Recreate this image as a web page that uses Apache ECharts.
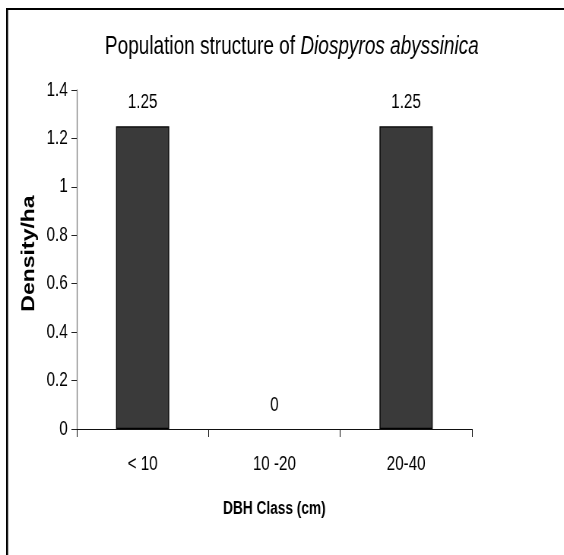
<!DOCTYPE html>
<html><head><meta charset="utf-8">
<script src="https://cdn.jsdelivr.net/npm/echarts@6/dist/echarts.min.js"></script>
<style>
html,body{margin:0;padding:0;background:#fff;overflow:hidden;width:564px;height:555px}
#wrap{width:564px;height:555px;overflow:hidden;position:relative}
#c{width:742px;height:555px;transform:scaleX(0.76);transform-origin:0 0;position:absolute;left:0;top:0}
</style>
</head><body><div id="wrap"><div id="c"></div></div>
<script>
const categories = ['< 10', '10 -20', '20-40'];
const densityValues = [1.25, 0, 1.25];
const yTicks = [0, 0.2, 0.4, 0.6, 0.8, 1, 1.2, 1.4];

const FONT = '"Liberation Sans", Arial, sans-serif';
const chart = echarts.init(document.getElementById('c'), null, {renderer: 'canvas'});
chart.setOption({
  animation: false,
  backgroundColor: '#fff',
  graphic: [
    {type: 'line', silent: true, z: 100, shape: {x1: 8, y1: 9, x2: 760, y2: 9}, style: {stroke: '#000', lineWidth: 2}},
    {type: 'line', silent: true, z: 100, shape: {x1: 9.3, y1: 8, x2: 9.3, y2: 560}, style: {stroke: '#000', lineWidth: 2.6}}
  ],
  title: {
    text: '{n|Population structure of }{i|Diospyros abyssinica}',
    left: 379, textAlign: 'center', top: 30,
    textStyle: {
      fontWeight: 'normal',
      rich: {
        n: {fontFamily: FONT, fontSize: 25, fontWeight: 'normal', color: '#000'},
        i: {fontFamily: FONT, fontSize: 25, fontWeight: 'normal', fontStyle: 'italic', color: '#000'}
      }
    }
  },
  grid: {left: 101, right: 121, top: 90, bottom: 126, containLabel: false},
  xAxis: {
    type: 'category', data: categories,
    axisLine: {lineStyle: {color: '#111', width: 1}},
    axisTick: {show: true, length: 8, lineStyle: {color: '#111'}},
    axisLabel: {fontFamily: FONT, fontSize: 20, color: '#000', margin: 25},
    name: 'DBH Class (cm)', nameLocation: 'middle', nameGap: 71,
    nameTextStyle: {fontFamily: FONT, fontSize: 18, fontWeight: 'bold', color: '#000'}
  },
  yAxis: {
    type: 'value', min: yTicks[0], max: yTicks[yTicks.length - 1], interval: 0.2,
    splitLine: {show: false},
    axisLine: {show: true, lineStyle: {color: '#808080', width: 1.3}},
    axisTick: {show: true, length: 7, lineStyle: {color: '#222'}},
    axisLabel: {fontFamily: FONT, fontSize: 20, color: '#000', margin: 12,
      formatter: v => String(+v.toFixed(1))},
    name: 'Density/ha', nameLocation: 'middle', nameGap: 47, nameRotate: 90,
    nameTextStyle: {fontFamily: FONT, fontSize: 23, fontWeight: 'bold', color: '#000', padding: [0, 0, 0, 12]}
  },
  series: [{
    type: 'bar', barWidth: 70,
    data: densityValues.map(v => v === 0 ? {value: v, itemStyle: {borderWidth: 0}} : v),
    itemStyle: {color: '#3a3a3a', borderColor: '#000', borderWidth: 1.3},
    label: {show: true, position: 'top', distance: 14, fontFamily: FONT, fontSize: 20, color: '#000'}
  }]
});
</script></body></html>
